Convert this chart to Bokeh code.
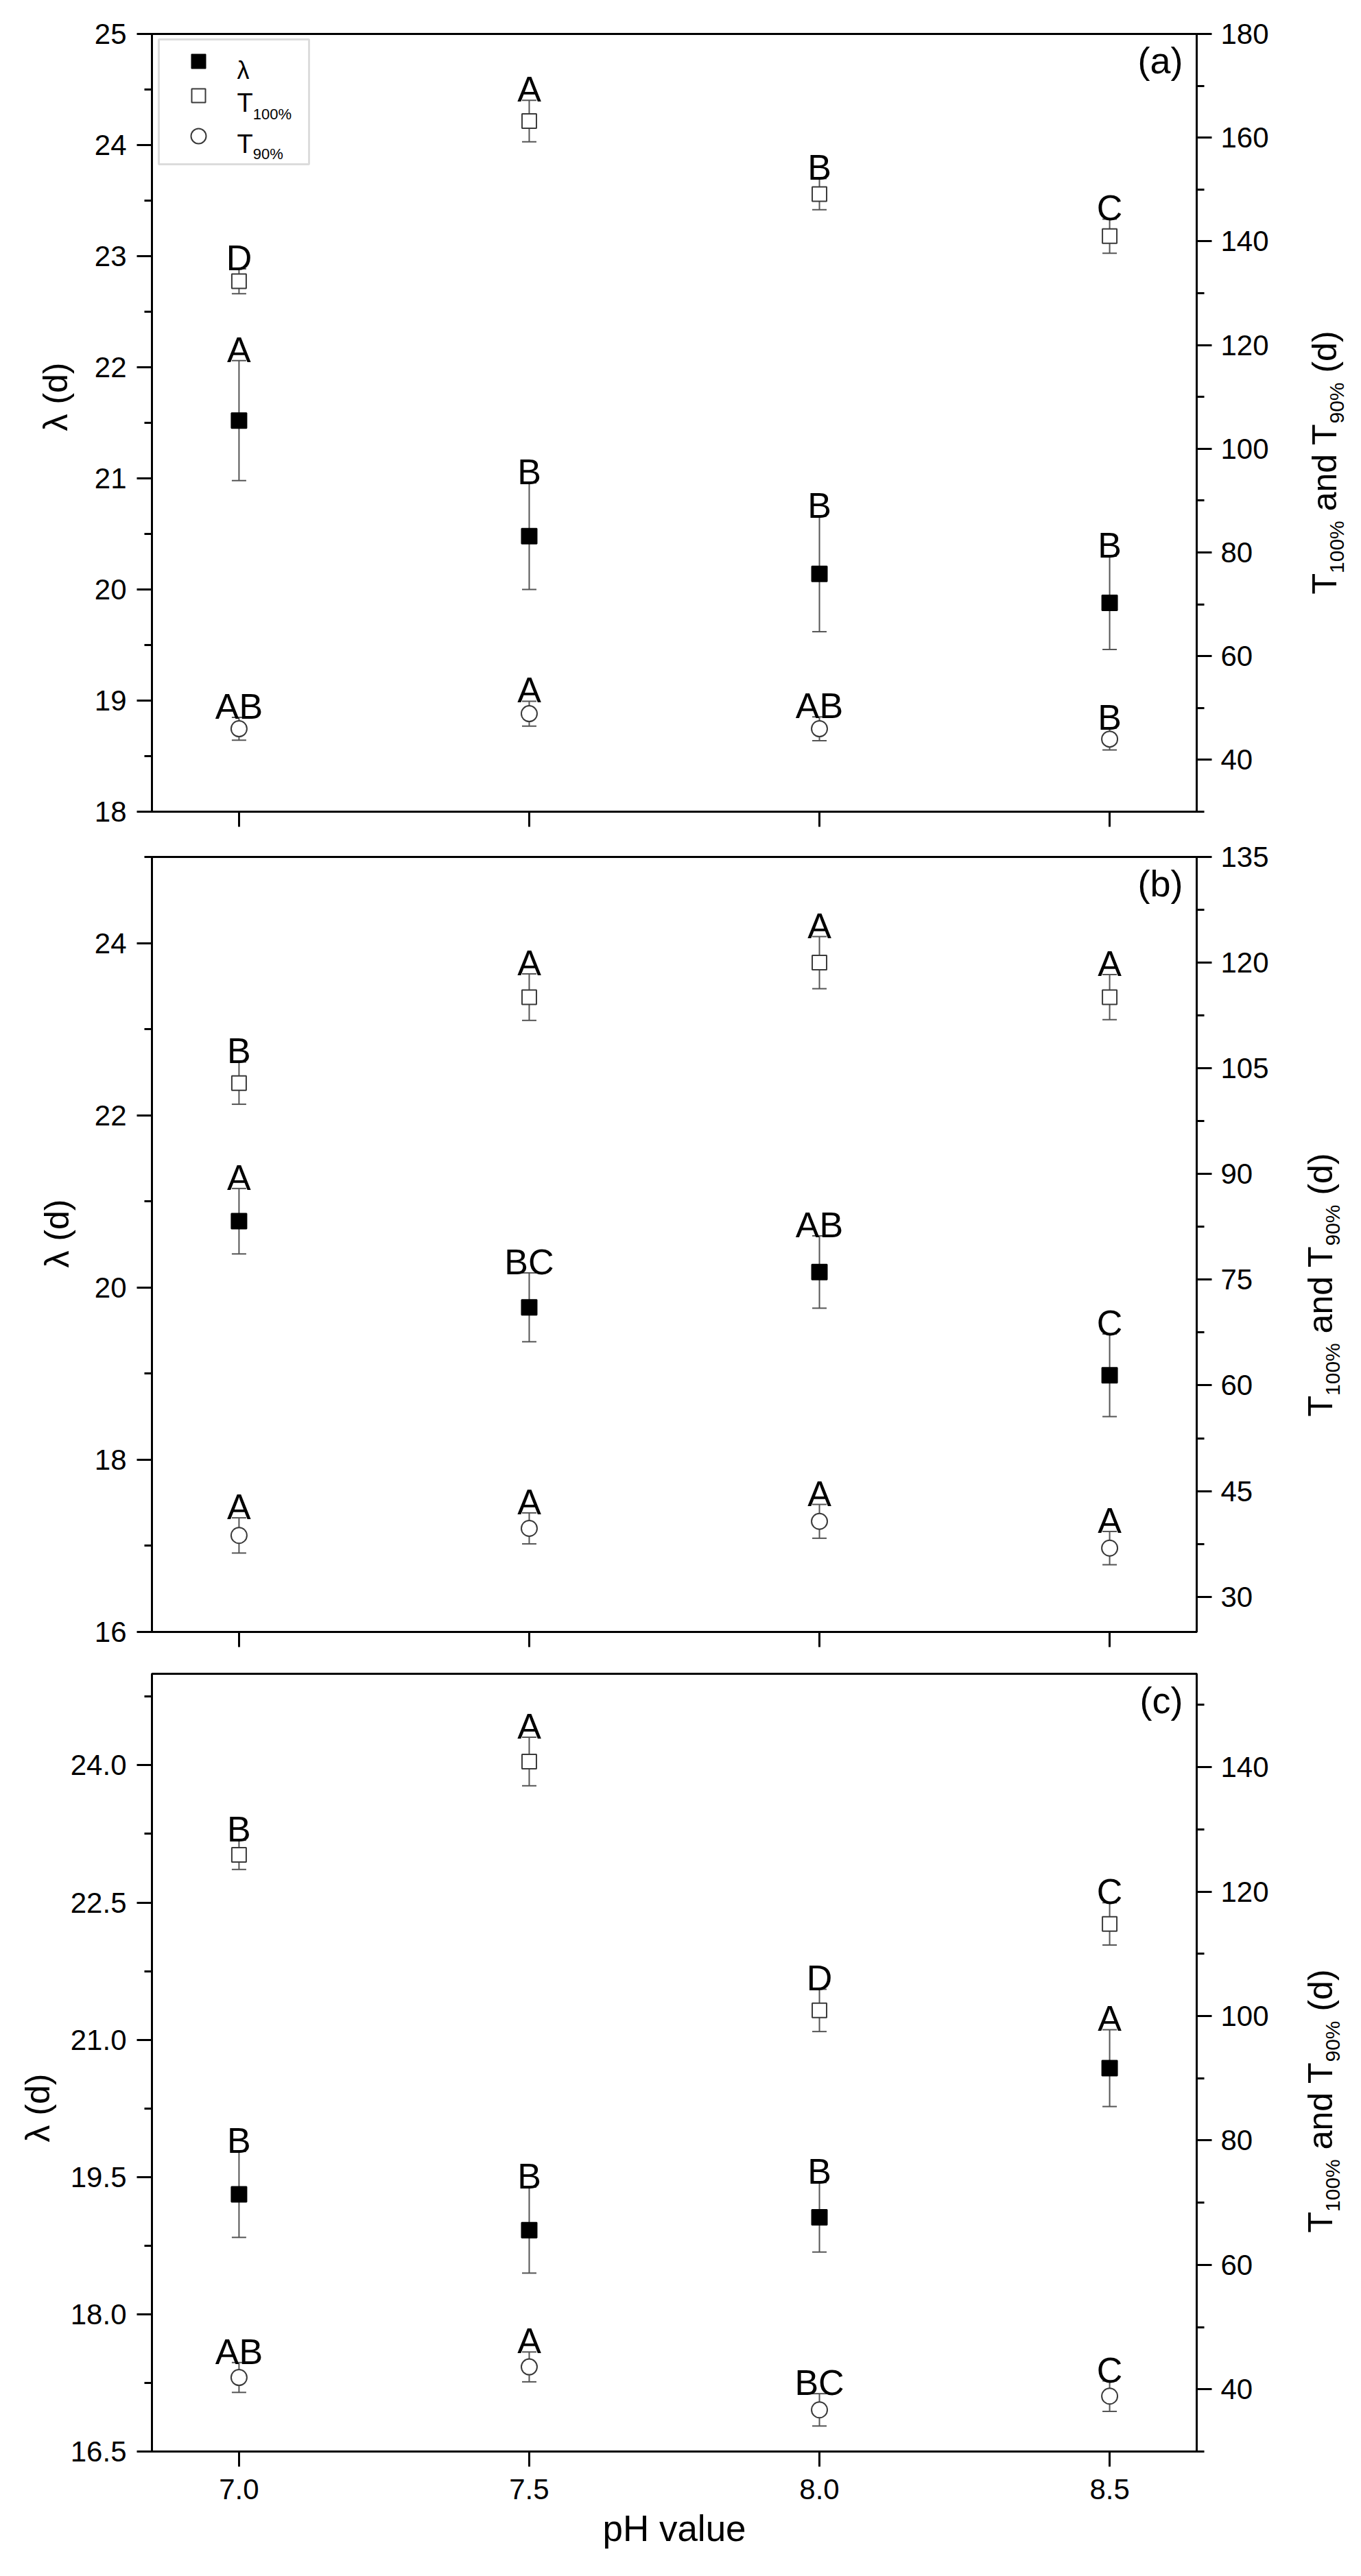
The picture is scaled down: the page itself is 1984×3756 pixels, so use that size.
import math
from bokeh.plotting import figure
from bokeh.models import (LinearAxis, Range1d, FixedTicker, PrintfTickFormatter,
                          Label, BoxAnnotation)
from bokeh.layouts import column, row
from bokeh.embed import file_html
from bokeh.resources import INLINE
from bokeh.core.properties import value

FONT = "Liberation Sans"

# ---------------- data ----------------
ph = [7.0, 7.5, 8.0, 8.5]
ph_ticks = [7.0, 7.5, 8.0, 8.5]
panel_tags = ["(a)", "(b)", "(c)"]

lam_a = [21.52, 20.48, 20.14, 19.88]
lam_a_err = [0.54, 0.48, 0.52, 0.42]
lam_a_grp = ["A", "B", "B", "B"]
t100_a = [132.3, 163.2, 149.1, 141.0]
t100_a_err = [2.4, 4.0, 3.0, 3.3]
t100_a_grp = ["D", "A", "B", "C"]
t90_a = [46.0, 48.9, 46.0, 44.0]
t90_a_err = [2.2, 2.4, 2.3, 2.1]
t90_a_grp = ["AB", "A", "AB", "B"]

lam_b = [20.77, 19.77, 20.18, 18.98]
lam_b_err = [0.38, 0.40, 0.42, 0.48]
lam_b_grp = ["A", "BC", "AB", "C"]
t100_b = [102.9, 115.1, 120.0, 115.1]
t100_b_err = [3.0, 3.3, 3.7, 3.2]
t100_b_grp = ["B", "A", "A", "A"]
t90_b = [38.7, 39.7, 40.7, 36.9]
t90_b_err = [2.5, 2.2, 2.4, 2.35]
t90_b_grp = ["A", "A", "A", "A"]

lam_c = [19.31, 18.92, 19.06, 20.69]
lam_c_err = [0.47, 0.47, 0.38, 0.42]
lam_c_grp = ["B", "B", "B", "A"]
t100_c = [125.9, 140.9, 100.9, 114.8]
t100_c_err = [2.35, 3.9, 3.4, 3.4]
t100_c_grp = ["B", "A", "D", "C"]
t90_c = [41.9, 43.6, 36.7, 38.9]
t90_c_err = [2.4, 2.4, 2.6, 2.45]
t90_c_grp = ["AB", "A", "BC", "C"]

# axis ticks
a_left_ticks = [18, 19, 20, 21, 22, 23, 24, 25]
a_left_minor = [18.5, 19.5, 20.5, 21.5, 22.5, 23.5, 24.5]
a_right_ticks = [40, 60, 80, 100, 120, 140, 160, 180]
a_right_minor = [30, 50, 70, 90, 110, 130, 150, 170]
b_left_ticks = [16, 18, 20, 22, 24]
b_left_minor = [17, 19, 21, 23, 25]
b_right_ticks = [30, 45, 60, 75, 90, 105, 120, 135]
b_right_minor = [37.5, 52.5, 67.5, 82.5, 97.5, 112.5, 127.5]
c_left_ticks = [16.5, 18.0, 19.5, 21.0, 22.5, 24.0]
c_left_minor = [17.25, 18.75, 20.25, 21.75, 23.25, 24.75]
c_right_ticks = [40, 60, 80, 100, 120, 140]
c_right_minor = [30, 50, 70, 90, 110, 130, 150]

# ---------------- layout (absolute page pixels) ----------------
PAGE = 8
FRAME_L, FW = 229, 1523
FRAME_R = FRAME_L + FW
PAGE_R = 1976
BORDER_R = 140
X_LO, X_HI = 6.85, 8.65
ERR = "#555555"
MK = "#3a3a3a"
SUB_SHIFT = 18

panels = [
    dict(tag=panel_tags[0], ctop=8, fh=1134, bt=49, bb=33, side_l=122,
         ylo=18, yhi=25, rlo=30, rhi=180,
         lt=a_left_ticks, lm=a_left_minor, rt=a_right_ticks, rm=a_right_minor, lfmt="%d",
         lam=lam_a, lam_e=lam_a_err, lam_g=lam_a_grp,
         t100=t100_a, t100_e=t100_a_err, t100_g=t100_a_grp,
         t90=t90_a, t90_e=t90_a_err, t90_g=t90_a_grp,
         ltx=88, lty=537, rtx=1938, rty=633, legend=True, xlabels=False),
    dict(tag=panel_tags[1], ctop=1224, fh=1130, bt=33, bb=30, side_l=122,
         ylo=16, yhi=25, rlo=25, rhi=135,
         lt=b_left_ticks, lm=b_left_minor, rt=b_right_ticks, rm=b_right_minor, lfmt="%d",
         lam=lam_b, lam_e=lam_b_err, lam_g=lam_b_grp,
         t100=t100_b, t100_e=t100_b_err, t100_g=t100_b_grp,
         t90=t90_b, t90_e=t90_b_err, t90_g=t90_b_grp,
         ltx=90, lty=1773, rtx=1932, rty=1848, legend=False, xlabels=False),
    dict(tag=panel_tags[2], ctop=2417, fh=1134, bt=31, bb=165, side_l=90,
         ylo=16.5, yhi=25, rlo=30, rhi=155,
         lt=c_left_ticks, lm=c_left_minor, rt=c_right_ticks, rm=c_right_minor, lfmt="%.1f",
         lam=lam_c, lam_e=lam_c_err, lam_g=lam_c_grp,
         t100=t100_c, t100_e=t100_c_err, t100_g=t100_c_grp,
         t90=t90_c, t90_e=t90_c_err, t90_g=t90_c_grp,
         ltx=62, lty=3050, rtx=1932, rty=3040, legend=False, xlabels=True),
]


def sx(X):
    return X_LO + (X - FRAME_L) * (X_HI - X_LO) / FW


def style_axis(ax, standoff):
    ax.axis_line_width = 3
    ax.axis_line_color = "black"
    ax.major_tick_line_width = 3
    ax.minor_tick_line_width = 3
    ax.major_tick_out = 22
    ax.major_tick_in = 0
    ax.minor_tick_out = 11
    ax.minor_tick_in = 0
    ax.major_label_text_font = FONT
    ax.major_label_text_font_size = "42px"
    ax.major_label_text_color = "black"
    ax.major_label_standoff = standoff


def side_fig(x0, x1, ytop, h):
    s = figure(frame_width=x1 - x0, frame_height=h,
               x_range=Range1d(x0, x1), y_range=Range1d(ytop + h, ytop),
               x_axis_location=None, y_axis_location=None,
               output_backend="svg", toolbar_location=None, title=None,
               min_border=0)
    s.grid.visible = False
    s.outline_line_color = None
    s.background_fill_color = "white"
    s.border_fill_color = "white"
    return s


def stext(s, X, Y, text, size, align="left", baseline="alphabetic", angle=0.0):
    s.text(x=[X], y=[Y], text=[text], angle=angle, text_align=align,
           text_baseline=baseline, text_font=value(FONT),
           text_font_size=f"{size}px", text_color="black")


def make_panel(P):
    bl = FRAME_L - PAGE - P["side_l"]
    p = figure(frame_width=FW, frame_height=P["fh"],
               x_range=Range1d(X_LO, X_HI), y_range=Range1d(P["ylo"], P["yhi"]),
               output_backend="svg", toolbar_location=None, title=None,
               min_border_left=bl, min_border_right=BORDER_R,
               min_border_top=P["bt"], min_border_bottom=P["bb"])
    p.extra_y_ranges = {"right": Range1d(P["rlo"], P["rhi"])}
    p.xgrid.grid_line_color = None
    p.ygrid.grid_line_color = None
    p.outline_line_color = "black"
    p.outline_line_width = 3
    p.background_fill_color = "white"
    p.border_fill_color = "white"
    top = P["ctop"] + P["bt"]

    def yv(Y):
        return P["yhi"] - (Y - top) * (P["yhi"] - P["ylo"]) / P["fh"]

    xa = p.below[0]
    xa.ticker = FixedTicker(ticks=ph_ticks, minor_ticks=[])
    xa.formatter = PrintfTickFormatter(format="%.1f")
    style_axis(xa, 18)
    if P["xlabels"]:
        xa.axis_label = "pH value"
        xa.axis_label_text_font = FONT
        xa.axis_label_text_font_size = "53px"
        xa.axis_label_text_font_style = "normal"
        xa.axis_label_text_color = "black"
        xa.axis_label_standoff = 10
    else:
        xa.major_label_overrides = {t: "" for t in ph_ticks}
        xa.major_label_text_font_size = "1px"
        xa.major_label_standoff = 0

    ya = p.left[0]
    ya.ticker = FixedTicker(ticks=P["lt"], minor_ticks=P["lm"])
    ya.formatter = PrintfTickFormatter(format=P["lfmt"])
    style_axis(ya, 15)

    ra = LinearAxis(y_range_name="right",
                    ticker=FixedTicker(ticks=P["rt"], minor_ticks=P["rm"]),
                    formatter=PrintfTickFormatter(format="%d"))
    style_axis(ra, 13)
    p.add_layout(ra, "right")

    ppu_l = P["fh"] / (P["yhi"] - P["ylo"])
    ppu_r = P["fh"] / (P["rhi"] - P["rlo"])

    series = [
        (P["lam"], P["lam_e"], P["lam_g"], "default", ppu_l, "square", 22, "black", "black"),
        (P["t100"], P["t100_e"], P["t100_g"], "right", ppu_r, "square", 21, "white", MK),
        (P["t90"], P["t90_e"], P["t90_g"], "right", ppu_r, "circle", 23, "white", MK),
    ]
    for vals, errs, grp, rng, ppu, marker, size, fill, line in series:
        lo = [v - e for v, e in zip(vals, errs)]
        hi = [v + e for v, e in zip(vals, errs)]
        p.segment(x0=ph, y0=lo, x1=ph, y1=hi, line_color=ERR, line_width=2,
                  y_range_name=rng)
        p.scatter(x=ph + ph, y=hi + lo, marker="dash", size=21, line_color=ERR,
                  line_width=2, y_range_name=rng)
        p.scatter(x=ph, y=vals, marker=marker, size=size, fill_color=fill,
                  line_color=line, line_width=2, y_range_name=rng)
        ty = [h + 16 / ppu for h in hi]
        p.text(x=ph, y=ty, text=grp, text_align="center", text_baseline="alphabetic",
               text_font=value(FONT), text_font_size="52px", text_color="black",
               y_range_name=rng)

    # panel tag
    p.add_layout(Label(x=sx(FRAME_R - 20), y=yv(top + 8), text=P["tag"],
                       text_font=FONT, text_font_size="54px", text_color="black",
                       text_align="right", text_baseline="top"))

    if P["legend"]:
        p.add_layout(BoxAnnotation(left=sx(239), right=sx(458), top=yv(65), bottom=yv(247),
                                   fill_color=None, line_color="#8c8c8c", line_width=3))
        p.scatter(x=[sx(297)], y=[yv(97)], marker="square", size=21,
                  fill_color="black", line_color="black")
        p.scatter(x=[sx(297)], y=[yv(147)], marker="square", size=20,
                  fill_color="white", line_color=MK, line_width=2)
        p.scatter(x=[sx(297)], y=[yv(206)], marker="circle", size=22,
                  fill_color="white", line_color=MK, line_width=2)
        for X, Y, t, s in [(353, 110, "λ", 36), (353, 157, "T", 38),
                           (353 + 0.611 * 38, 174, "100%", 22), (353, 217, "T", 38),
                           (353 + 0.611 * 38, 232, "90%", 22)]:
            p.add_layout(Label(x=sx(X), y=yv(Y), text=t, text_font=FONT,
                               text_font_size=f"{s}px", text_color="black",
                               text_align="left", text_baseline="alphabetic"))

    H = P["bt"] + P["fh"] + P["bb"]
    # left side canvas with the rotated λ title
    left = side_fig(PAGE, PAGE + P["side_l"], P["ctop"], H)
    stext(left, P["ltx"], P["lty"], "λ (d)", 50, align="center", baseline="middle",
          angle=math.pi / 2)

    # right side canvas with the composed T100% / T90% title
    x0r = FRAME_R + BORDER_R
    right = side_fig(x0r, PAGE_R, P["ctop"], H)
    F, f = 50, 30
    segs = [("T", F, 0.0, 0.611, False), ("100%", f, 0.0, 2.557, True),
            ("and T", F, 0.278 * F, 2.557, False), ("90%", f, 0.0, 2.001, True),
            ("(d)", F, 0.278 * F, 1.222, False)]
    L = sum(g + w * s for _, s, g, w, _ in segs)
    cur = P["rty"] + L / 2
    for txt, s, gap, w, sub in segs:
        cur -= gap
        stext(right, P["rtx"] + (SUB_SHIFT if sub else 0), cur, txt, s, angle=math.pi / 2)
        cur -= w * s

    return row(left, p, right, spacing=0)


rows = [make_panel(P) for P in panels]
layout = column(*rows, spacing=0)
open("out.html", "w").write(file_html(layout, INLINE))
